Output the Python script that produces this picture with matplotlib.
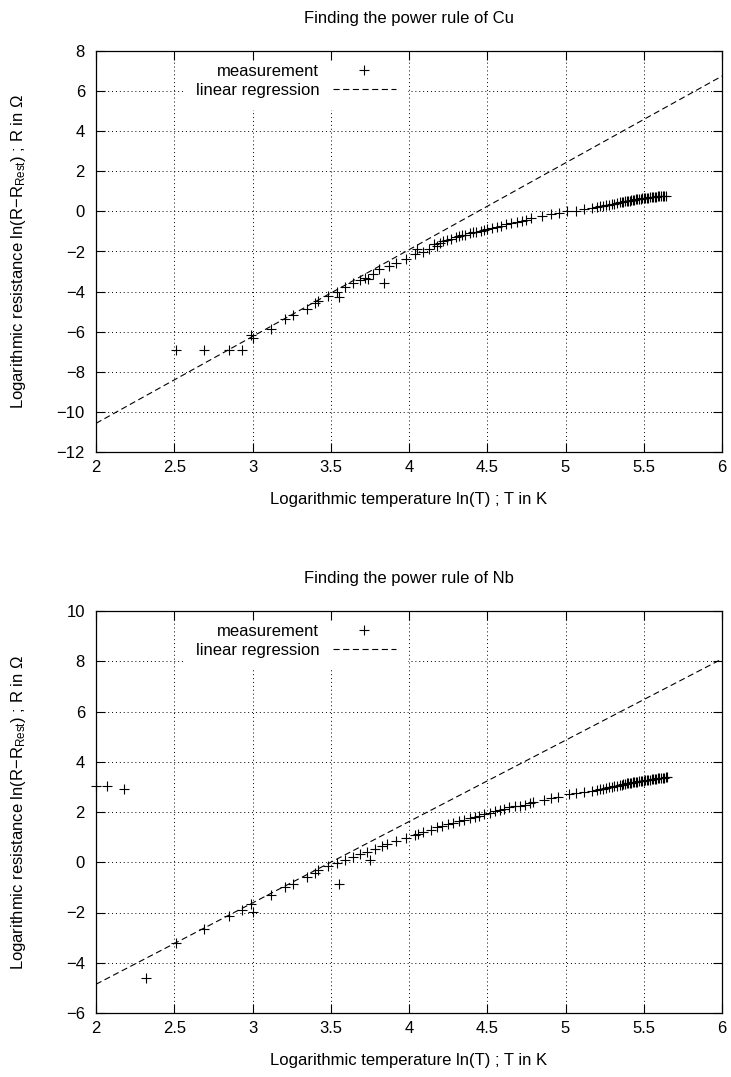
import numpy as np
import matplotlib
matplotlib.use("Agg")
import matplotlib.pyplot as plt

plt.rcParams['font.family'] = ['Liberation Sans', 'DejaVu Sans']
plt.rcParams['mathtext.fontset'] = 'custom'
plt.rcParams['mathtext.rm'] = 'Liberation Sans'
plt.rcParams['mathtext.default'] = 'regular'

# Cu: ln(T) and ln(R - R_rest)
cu_lnT = [2.51, 2.69, 2.85, 2.93, 2.99, 3.00, 3.12, 3.21, 3.26, 3.35, 3.40, 3.42,
          3.48, 3.54, 3.55, 3.59, 3.64, 3.69, 3.72, 3.74, 3.77, 3.81, 3.84, 3.87,
          3.92, 3.98, 4.04, 4.05, 4.09, 4.13, 4.16, 4.18, 4.20, 4.22, 4.24, 4.27,
          4.30, 4.32, 4.34, 4.36, 4.39, 4.41, 4.43, 4.46, 4.48, 4.50, 4.53, 4.56,
          4.59, 4.62, 4.65, 4.69, 4.72, 4.75, 4.78, 4.85, 4.91, 4.96, 5.01, 5.07,
          5.12, 5.17, 5.20, 5.22, 5.24, 5.26, 5.28, 5.30, 5.31, 5.33, 5.35, 5.36,
          5.37, 5.38, 5.39, 5.40, 5.41, 5.42, 5.43, 5.44, 5.45, 5.46, 5.47, 5.48,
          5.49, 5.50, 5.51, 5.52, 5.53, 5.54, 5.55, 5.56, 5.57, 5.58, 5.59, 5.60,
          5.61, 5.62, 5.63, 5.64]
cu_lnR = [-6.93, -6.93, -6.93, -6.93, -6.18, -6.32, -5.85, -5.35, -5.18, -4.88, -4.55, -4.48,
          -4.22, -4.02, -4.27, -3.77, -3.55, -3.40, -3.32, -3.35, -3.10, -2.88, -3.55, -2.72,
          -2.55, -2.35, -2.12, -1.90, -2.03, -1.90, -1.62, -1.75, -1.60, -1.50, -1.45, -1.38,
          -1.30, -1.25, -1.20, -1.16, -1.10, -1.05, -1.02, -0.97, -0.93, -0.90, -0.85, -0.78,
          -0.72, -0.65, -0.60, -0.55, -0.48, -0.42, -0.35, -0.23, -0.15, -0.07, 0.00, 0.04,
          0.10, 0.18, 0.23, 0.27, 0.29, 0.32, 0.34, 0.37, 0.38, 0.41, 0.45, 0.46,
          0.48, 0.50, 0.52, 0.53, 0.54, 0.56, 0.57, 0.58, 0.60, 0.61, 0.62, 0.63,
          0.65, 0.66, 0.67, 0.68, 0.69, 0.70, 0.71, 0.72, 0.73, 0.74, 0.75, 0.76,
          0.77, 0.77, 0.78, 0.78]

# Nb: ln(T) and ln(R - R_rest)
nb_lnT = [2.00, 2.07, 2.18, 2.32, 2.51, 2.69, 2.85, 2.93, 2.99, 3.00, 3.12, 3.21,
          3.26, 3.35, 3.40, 3.42, 3.48, 3.54, 3.55, 3.59, 3.64, 3.69, 3.73, 3.75,
          3.78, 3.83, 3.86, 3.92, 3.98, 4.04, 4.06, 4.09, 4.14, 4.18, 4.21, 4.25,
          4.28, 4.32, 4.35, 4.39, 4.42, 4.45, 4.48, 4.52, 4.55, 4.58, 4.61, 4.64,
          4.68, 4.71, 4.74, 4.77, 4.79, 4.86, 4.91, 4.95, 5.02, 5.07, 5.12, 5.17,
          5.20, 5.22, 5.24, 5.26, 5.28, 5.30, 5.31, 5.33, 5.35, 5.36, 5.37, 5.38,
          5.39, 5.40, 5.41, 5.42, 5.43, 5.44, 5.45, 5.46, 5.47, 5.48, 5.49, 5.50,
          5.51, 5.52, 5.53, 5.54, 5.55, 5.56, 5.57, 5.58, 5.59, 5.60, 5.61, 5.62,
          5.63, 5.64, 5.65]
nb_lnR = [3.05, 3.05, 2.90, -4.60, -3.21, -2.66, -2.13, -1.90, -1.68, -1.97, -1.29, -1.00,
          -0.87, -0.57, -0.42, -0.30, -0.16, -0.04, -0.87, 0.08, 0.21, 0.34, 0.41, 0.10,
          0.54, 0.63, 0.74, 0.84, 0.98, 1.10, 1.13, 1.20, 1.29, 1.40, 1.46, 1.53,
          1.55, 1.63, 1.69, 1.75, 1.79, 1.86, 1.92, 1.95, 2.03, 2.06, 2.12, 2.19,
          2.23, 2.25, 2.29, 2.34, 2.38, 2.48, 2.56, 2.61, 2.70, 2.74, 2.78, 2.85,
          2.87, 2.90, 2.93, 2.95, 2.98, 3.00, 3.02, 3.04, 3.06, 3.08, 3.10, 3.12,
          3.14, 3.15, 3.16, 3.17, 3.18, 3.19, 3.20, 3.21, 3.22, 3.23, 3.24, 3.25,
          3.26, 3.27, 3.28, 3.29, 3.30, 3.31, 3.32, 3.33, 3.34, 3.35, 3.36, 3.36,
          3.37, 3.38, 3.38]

# linear regression y = a*x + b
cu_fit = (4.33, -19.23)
nb_fit = (3.237, -11.33)

xticks = [2, 2.5, 3, 3.5, 4, 4.5, 5, 5.5, 6]
xtick_labels = ['2', '2.5', '3', '3.5', '4', '4.5', '5', '5.5', '6']

fig = plt.figure(figsize=(7.31, 10.77), dpi=100)
W, H = 731, 1077


def make_panel(rect, lnT, lnR, fit, ylim, yticks, title):
    left, top, right, bottom = rect
    ax = fig.add_axes([left / W, 1 - bottom / H, (right - left) / W, (bottom - top) / H])
    ax.set_xlim(2, 6)
    ax.set_ylim(*ylim)
    ax.set_xticks(xticks)
    ax.set_xticklabels(xtick_labels)
    ax.set_yticks(yticks)
    ax.set_yticklabels([str(t).replace('-', '\u2212') for t in yticks])
    ax.tick_params(direction='in', length=6.5, width=0.8, top=True, right=True,
                   labelsize=12, color='black')
    ax.tick_params(axis='y', pad=8)
    ax.tick_params(axis='x', pad=6)
    for s in ax.spines.values():
        s.set_linewidth(0.9)
        s.set_zorder(6)
    ax.xaxis.set_zorder(6)
    ax.yaxis.set_zorder(6)

    # dotted grid drawn by hand so the key box can hide it
    grid_style = dict(color='black', linestyle=(0, (1, 3)), linewidth=0.7, zorder=1)
    for t in xticks[1:-1]:
        ax.axvline(t, **grid_style)
    for t in yticks[1:-1]:
        ax.axhline(t, **grid_style)

    xs = np.linspace(2, 6, 50)
    ax.plot(lnT, lnR, linestyle='none', marker='+', ms=7, mew=0.8, color='black',
            label='measurement', clip_on=False, zorder=3)
    ax.plot(xs, fit[0] * xs + fit[1], color='black', lw=0.8, dashes=(5.5, 3.2),
            label='linear regression', zorder=3)

    leg = ax.legend(loc='upper right', bbox_to_anchor=(0.499, 1.0), markerfirst=False,
                    frameon=True, fancybox=False, fontsize=12, handlelength=3.8,
                    handletextpad=0.8, labelspacing=0.25, borderpad=0.75,
                    borderaxespad=0)
    leg.set_zorder(2)
    leg.get_frame().set_facecolor('white')
    leg.get_frame().set_edgecolor('none')
    leg.get_frame().set_alpha(1)

    ax.set_title(title, fontsize=12, pad=20)
    ax.set_xlabel('Logarithmic temperature ln(T) ; T in K', fontsize=12)
    ax.set_ylabel('Logarithmic resistance ln(R\u2212R$_{Rest}$) ; R in \u03a9', fontsize=12)
    ax.xaxis.set_label_coords(0.5, -0.1)
    ax.yaxis.set_label_coords(-0.108, 0.5)
    return ax


make_panel((96, 51, 722, 452), cu_lnT, cu_lnR, cu_fit, (-12, 8),
           list(range(-12, 9, 2)), 'Finding the power rule of Cu')
make_panel((96, 611, 722, 1013), nb_lnT, nb_lnR, nb_fit, (-6, 10),
           list(range(-6, 11, 2)), 'Finding the power rule of Nb')

fig.savefig('out.png', dpi=100)
